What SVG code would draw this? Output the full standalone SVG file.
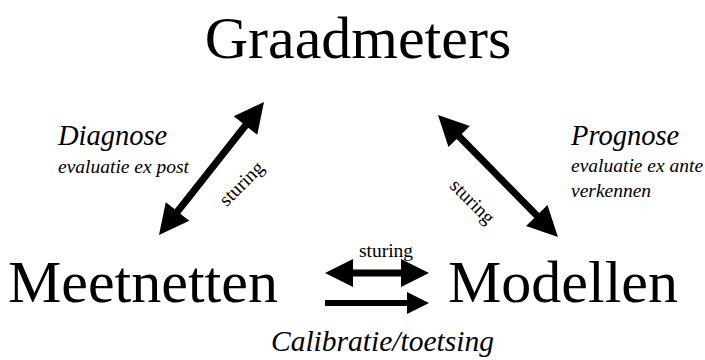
<svg xmlns="http://www.w3.org/2000/svg" width="705" height="360" viewBox="0 0 705 360">
<style>
.t{font-family:"Liberation Serif","Times New Roman",serif;fill:#000}
.big{font-size:60px}
.it{font-style:italic}
.arr{fill:#000;stroke:none}
.st{font-size:19.5px}
</style>
<defs>
<polygon id="dbl170" points="0,0 30,-15 30,-3.5 140,-3.5 140,-15 170,0 140,15 140,3.5 30,3.5 30,15"/>
</defs>
<rect width="705" height="360" fill="#fff"/>
<g id="graadmeters"><text class="t big" x="358" y="58" text-anchor="middle">Graadmeters</text></g>
<g id="meetnetten"><text class="t big" x="8" y="302">Meetnetten</text></g>
<g id="modellen"><text class="t big" x="448" y="302">Modellen</text></g>
<g id="diagnose">
<text class="t it" x="58" y="145" font-size="28.5">Diagnose</text>
<text class="t it" x="58" y="173" font-size="19.5">evaluatie ex post</text>
</g>
<g id="prognose">
<text class="t it" x="571" y="145" font-size="28.5">Prognose</text>
<text class="t it" x="571" y="172" font-size="19.5">evaluatie ex ante</text>
<text class="t it" x="571" y="197" font-size="19.5">verkennen</text>
</g>
<g id="calibratie"><text class="t it" x="271" y="351" font-size="29.5">Calibratie/toetsing</text></g>
<g id="connectors">
<g transform="translate(159,235) rotate(-51.7) scale(0.9965,1)"><use href="#dbl170" class="arr"/></g>
<g transform="translate(438,115) rotate(45.5) scale(1.0065,1)"><use href="#dbl170" class="arr"/></g>
<polygon class="arr" points="325,273 353,259 353,269.5 401,269.5 401,259 429,273 401,287 401,276.5 353,276.5 353,287"/>
<polygon class="arr" points="325,300 407,300 407,292 429,303 407,314 407,306 325,306"/>
<text class="t st" x="386" y="257" text-anchor="middle">sturing</text>
<text class="t st" transform="translate(246,188) rotate(-45)" text-anchor="middle">sturing</text>
<text class="t st" transform="translate(468,206) rotate(45)" text-anchor="middle">sturing</text>
</g>
</svg>
